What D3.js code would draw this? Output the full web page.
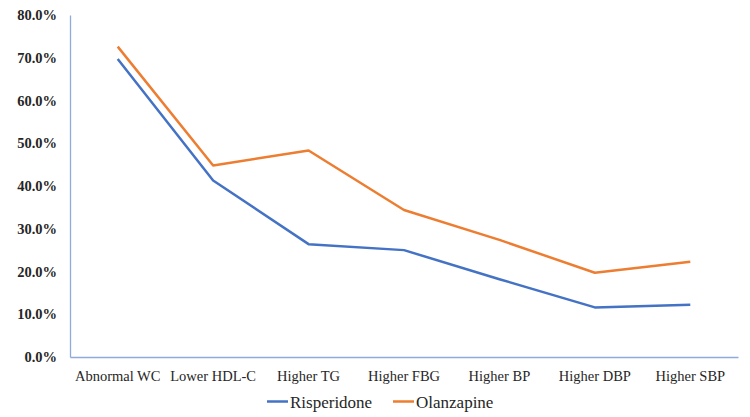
<!DOCTYPE html>
<html>
<head>
<meta charset="utf-8">
<script src="https://cdn.jsdelivr.net/npm/d3@7"></script>
<style>
  body { margin: 0; background: #fff; }
  svg { display: block; }
  .serif { font-family: "Liberation Serif", "Times New Roman", Times, "DejaVu Serif", serif; }
</style>
</head>
<body>
<svg id="chart" width="750" height="417"></svg>
<script>
const categories = ["Abnormal WC", "Lower HDL-C", "Higher TG", "Higher FBG", "Higher BP", "Higher DBP", "Higher SBP"];
const risperidone = [69.7, 41.3, 26.4, 25.0, 18.2, 11.6, 12.2];
const olanzapine = [72.6, 44.8, 48.3, 34.4, 27.4, 19.7, 22.3];
const yTicks = [0, 10, 20, 30, 40, 50, 60, 70, 80];
const seriesNames = ["Risperidone", "Olanzapine"];
const seriesColors = ["#4472C4", "#ED7D31"];

const svg = d3.select("#chart");
const margin = { left: 70, right: 12, top: 15, bottom: 60 };
const W = 750, H = 417;
const FONT = '"Liberation Serif", "Times New Roman", Times, "DejaVu Serif", serif';

const x = d3.scaleBand().domain(categories).range([margin.left, W - margin.right]);
const y = d3.scaleLinear().domain([0, 80]).range([H - margin.bottom, margin.top]);

// y axis labels
const yAxis = d3.axisLeft(y).tickValues(yTicks).tickSize(0).tickPadding(13)
  .tickFormat(d => d.toFixed(1) + "%");
const gy = svg.append("g").attr("transform", `translate(${margin.left},0)`).call(yAxis);
gy.attr("font-family", null);
gy.select(".domain").attr("stroke", "#8FAADC").attr("stroke-width", 1.3);
gy.selectAll("text")
  .attr("class", "serif")
  .style("font-family", FONT)
  .style("font-weight", "bold")
  .style("font-size", "14.5px")
  .attr("fill", "#262626");

// x axis
const xAxis = d3.axisBottom(x).tickSize(0).tickPadding(14).tickSizeOuter(0);
const gx = svg.append("g").attr("transform", `translate(0,${y(0)})`).call(xAxis);
gx.attr("font-family", null);
gx.select(".domain").attr("stroke", "#8FAADC").attr("stroke-width", 1.3);
gx.selectAll("text")
  .attr("class", "serif")
  .style("font-family", FONT)
  .style("font-size", "14.5px")
  .attr("fill", "#262626");

// lines
const line = d3.line()
  .x((d, i) => x(categories[i]) + x.bandwidth() / 2)
  .y(d => y(d));

[risperidone, olanzapine].forEach((data, k) => {
  svg.append("path")
    .datum(data)
    .attr("fill", "none")
    .attr("stroke", seriesColors[k])
    .attr("stroke-width", 2.5)
    .attr("stroke-linejoin", "round")
    .attr("d", line);
});

// legend
const legendY = 402;
const legendItems = [
  { name: seriesNames[0], color: seriesColors[0], x0: 267 },
  { name: seriesNames[1], color: seriesColors[1], x0: 393 }
];
legendItems.forEach(it => {
  svg.append("line")
    .attr("x1", it.x0).attr("x2", it.x0 + 21)
    .attr("y1", legendY - 0.5).attr("y2", legendY - 0.5)
    .attr("stroke", it.color).attr("stroke-width", 2.5);
  svg.append("text")
    .attr("class", "serif")
    .attr("x", it.x0 + 23)
    .attr("y", legendY + 6)
    .style("font-family", FONT)
    .style("font-size", "17px")
    .attr("fill", "#262626")
    .text(it.name);
});
</script>
</body>
</html>
